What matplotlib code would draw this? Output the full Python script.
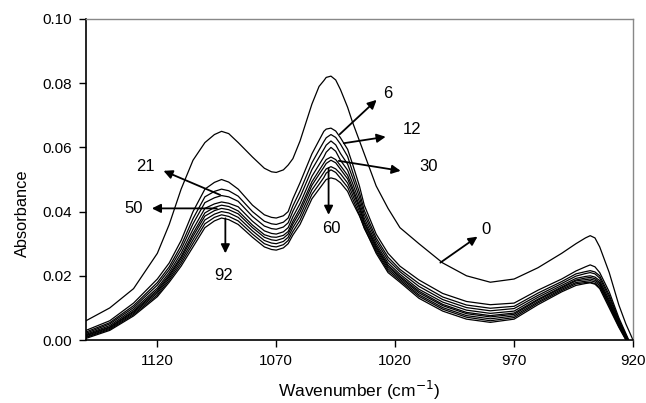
import matplotlib
matplotlib.use("Agg")
import matplotlib.pyplot as plt

plt.rcParams['font.family'] = ['Liberation Sans', 'DejaVu Sans']

# wavenumber grid (cm-1)
wavenumber = [1150, 1140, 1130, 1120, 1115, 1110, 1105, 1100, 1096, 1093,
              1090, 1086, 1080, 1075, 1072, 1070, 1067, 1065, 1063, 1060,
              1055, 1052, 1050, 1049, 1047, 1045, 1043, 1040, 1038, 1035,
              1033, 1028, 1023, 1018, 1010, 1000, 990, 980, 970, 960,
              950, 944, 940, 938, 936, 934, 930, 926, 923, 920]

# absorbance spectra, one per time (0 = top curve)
spec_0 = [0.006, 0.010, 0.016, 0.027, 0.036, 0.047, 0.056, 0.0615, 0.064, 0.065,
          0.0643, 0.0615, 0.057, 0.0535, 0.0524, 0.0522, 0.053, 0.0545, 0.0565, 0.062,
          0.0735, 0.079, 0.0808, 0.0818, 0.0822, 0.081, 0.078, 0.0725, 0.068, 0.062,
          0.058, 0.048, 0.041, 0.035, 0.030, 0.024, 0.020, 0.018, 0.019, 0.0225,
          0.027, 0.030, 0.0318, 0.0325, 0.0318, 0.029, 0.021, 0.011, 0.005, 0.0]
spec_1 = [0.003, 0.006, 0.0115, 0.019, 0.024, 0.031, 0.040, 0.047, 0.0491, 0.050,
          0.0492, 0.047, 0.042, 0.039, 0.0382, 0.038, 0.0387, 0.040, 0.044, 0.049,
          0.058, 0.0622, 0.065, 0.0657, 0.066, 0.0651, 0.063, 0.0594, 0.055, 0.0479,
          0.042, 0.033, 0.027, 0.023, 0.0187, 0.0145, 0.012, 0.011, 0.0115, 0.0155,
          0.019, 0.0215, 0.0228, 0.0234, 0.0228, 0.021, 0.015, 0.007, 0.002, -0.003]
spec_2 = [0.0025, 0.0054, 0.0107, 0.0179, 0.0228, 0.0294, 0.0378, 0.0446, 0.0463, 0.047,
          0.0465, 0.0448, 0.040, 0.037, 0.0362, 0.036, 0.0367, 0.038, 0.0418, 0.0464,
          0.0552, 0.0592, 0.0618, 0.063, 0.064, 0.0631, 0.061, 0.0572, 0.0526, 0.0459,
          0.0404, 0.0318, 0.0258, 0.022, 0.0176, 0.0134, 0.0109, 0.0099, 0.0105, 0.0146,
          0.0182, 0.0206, 0.0213, 0.0216, 0.0212, 0.020, 0.014, 0.0064, 0.0016, -0.003]
spec_3 = [0.0021, 0.0050, 0.0101, 0.0171, 0.0219, 0.0282, 0.0362, 0.0428, 0.0443, 0.045,
          0.0446, 0.0432, 0.0385, 0.0355, 0.0347, 0.0345, 0.0352, 0.0365, 0.0401, 0.0445,
          0.0531, 0.0569, 0.0594, 0.0607, 0.062, 0.0608, 0.0581, 0.0548, 0.0508, 0.0444,
          0.0392, 0.0309, 0.0249, 0.0213, 0.0167, 0.0126, 0.0101, 0.0091, 0.0098, 0.0139,
          0.0176, 0.0199, 0.0207, 0.021, 0.0206, 0.0193, 0.0133, 0.006, 0.0013, -0.0035]
spec_4 = [0.00175, 0.0045, 0.0095, 0.0162, 0.021, 0.027, 0.0345, 0.041, 0.0424, 0.043,
          0.0426, 0.0415, 0.037, 0.034, 0.0332, 0.033, 0.0337, 0.035, 0.0384, 0.0425,
          0.051, 0.0546, 0.057, 0.0585, 0.060, 0.0588, 0.056, 0.0529, 0.049, 0.043,
          0.038, 0.030, 0.024, 0.0205, 0.0158, 0.0118, 0.0093, 0.0083, 0.009, 0.0133,
          0.017, 0.0192, 0.0198, 0.020, 0.0196, 0.0185, 0.0125, 0.0055, 0.001, -0.004]
spec_5 = [0.0015, 0.0041, 0.009, 0.0156, 0.0203, 0.026, 0.0332, 0.0396, 0.0413, 0.042,
          0.0416, 0.0402, 0.0358, 0.0328, 0.0321, 0.032, 0.0326, 0.0338, 0.037, 0.041,
          0.0493, 0.0528, 0.0551, 0.0562, 0.057, 0.0562, 0.0543, 0.0513, 0.0476, 0.0418,
          0.037, 0.0293, 0.0233, 0.0199, 0.0152, 0.0111, 0.0086, 0.0076, 0.0084, 0.0127,
          0.0165, 0.0187, 0.0193, 0.0195, 0.0191, 0.0179, 0.0119, 0.0051, 0.0008, -0.004]
spec_6 = [0.0013, 0.0039, 0.0087, 0.0151, 0.0198, 0.0254, 0.0323, 0.0386, 0.0403, 0.041,
          0.0406, 0.0393, 0.035, 0.032, 0.0312, 0.031, 0.0317, 0.033, 0.0361, 0.0399,
          0.0482, 0.0516, 0.0538, 0.055, 0.056, 0.0552, 0.0532, 0.0502, 0.0466, 0.041,
          0.0364, 0.0288, 0.0228, 0.0195, 0.0147, 0.0107, 0.0082, 0.0072, 0.008, 0.0124,
          0.0162, 0.0184, 0.0188, 0.019, 0.0186, 0.0175, 0.0115, 0.0049, 0.0006, -0.0045]
spec_7 = [0.001, 0.0036, 0.0083, 0.0146, 0.0192, 0.0246, 0.0312, 0.0374, 0.0392, 0.040,
          0.0396, 0.0382, 0.034, 0.031, 0.0302, 0.030, 0.0307, 0.032, 0.035, 0.0386,
          0.0468, 0.050, 0.0522, 0.0533, 0.054, 0.0533, 0.0518, 0.0489, 0.0454, 0.040,
          0.0356, 0.0282, 0.0222, 0.019, 0.0141, 0.0101, 0.0076, 0.0066, 0.0075, 0.0119,
          0.0158, 0.0179, 0.0183, 0.0185, 0.0181, 0.017, 0.011, 0.0046, 0.0004, -0.0045]
spec_8 = [0.0008, 0.0033, 0.0079, 0.0140, 0.0186, 0.0238, 0.0301, 0.0362, 0.0382, 0.039,
          0.0385, 0.0371, 0.033, 0.030, 0.0292, 0.029, 0.0297, 0.031, 0.0338, 0.0373,
          0.0454, 0.0485, 0.0506, 0.052, 0.053, 0.0522, 0.0504, 0.0476, 0.0442, 0.039,
          0.0348, 0.0276, 0.0216, 0.0185, 0.0136, 0.0096, 0.0071, 0.006, 0.007, 0.0115,
          0.0154, 0.0175, 0.0179, 0.018, 0.0176, 0.0165, 0.0105, 0.0043, 0.0002, -0.005]
spec_9 = [0.0005, 0.003, 0.0075, 0.0135, 0.018, 0.023, 0.029, 0.035, 0.0371, 0.038,
          0.0375, 0.036, 0.032, 0.029, 0.0282, 0.028, 0.0287, 0.030, 0.0327, 0.036,
          0.044, 0.047, 0.049, 0.050, 0.0505, 0.0501, 0.049, 0.0463, 0.043, 0.0386,
          0.035, 0.027, 0.021, 0.018, 0.013, 0.009, 0.0065, 0.0055, 0.0065, 0.011,
          0.015, 0.017, 0.0176, 0.0178, 0.0174, 0.016, 0.010, 0.004, 0.0, -0.005]

spectra = [spec_0, spec_1, spec_2, spec_3, spec_4, spec_5, spec_6, spec_7, spec_8, spec_9]

# time labels: text position, arrow start, arrow head (wavenumber, absorbance)
time_labels = ["0", "6", "12", "21", "30", "50", "60", "92"]
text_pos = [(982, 0.0345), (1023, 0.0768), (1013, 0.0656), (1125, 0.054),
            (1006, 0.054), (1130, 0.041), (1047, 0.0348), (1092, 0.0202)]
arrow_from = [(1001, 0.0241), (1043.3, 0.0641), (1041.6, 0.0613), (1093.6, 0.0452),
              (1043.7, 0.0558), (1095, 0.041), (1048, 0.0535), (1091.4, 0.0379)]
arrow_to = [(985.4, 0.0322), (1027.8, 0.0748), (1024, 0.0633), (1117.4, 0.0527),
            (1017.7, 0.0527), (1122.3, 0.041), (1048, 0.039), (1091.4, 0.027)]

fig = plt.figure(figsize=(6.46, 4.03), dpi=100)
ax = fig.add_axes([0.1331, 0.1563, 0.8468, 0.7966])

for s in spectra:
    ax.plot(wavenumber, s, color="black", lw=0.9)

for lab, tp, a0, a1 in zip(time_labels, text_pos, arrow_from, arrow_to):
    ax.annotate("", xy=a1, xytext=a0,
                arrowprops=dict(arrowstyle="-|>", color="black", lw=1.3,
                                mutation_scale=13, shrinkA=0, shrinkB=0))
    ax.text(tp[0], tp[1], lab, fontsize=12, ha="center", va="center")

ax.set_xlim(1150, 920)
ax.set_ylim(0, 0.10)
ax.set_xticks([1120, 1070, 1020, 970, 920])
ax.set_yticks([0.0, 0.02, 0.04, 0.06, 0.08, 0.10])
ax.set_yticklabels([f"{v:.2f}" for v in [0.0, 0.02, 0.04, 0.06, 0.08, 0.10]])

ax.tick_params(axis="both", labelsize=11, length=5, width=1, direction="out")
ax.tick_params(axis="x", pad=5)
ax.tick_params(axis="y", pad=5)

for side in ["top", "right"]:
    ax.spines[side].set_color("#888888")
    ax.spines[side].set_linewidth(1)
for side in ["left", "bottom"]:
    ax.spines[side].set_color("black")
    ax.spines[side].set_linewidth(1.2)

ax.set_xlabel("Wavenumber (cm$^{-1}$)", fontsize=12.5, labelpad=8)
ax.set_ylabel("Absorbance", fontsize=11.8)
ax.yaxis.set_label_coords(-0.102, 0.394)

fig.savefig("out.png", dpi=100)
